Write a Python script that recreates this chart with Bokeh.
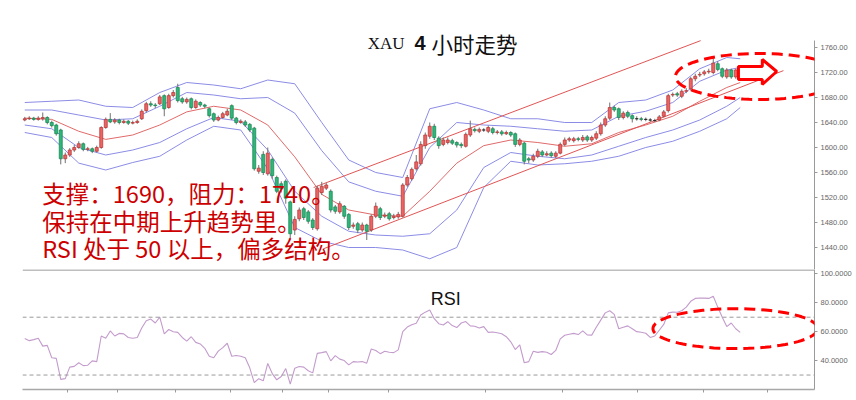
import numpy as np
from bokeh.plotting import figure
from bokeh.layouts import column
from bokeh.models import (Range1d, FixedTicker, NumeralTickFormatter, Span, Label,
                          PolyAnnotation, ColumnDataSource)
from bokeh.embed import file_html
from bokeh.resources import INLINE

# ---------------- data ----------------
open_ = [1644, 1646, 1647, 1645, 1646, 1648, 1640, 1636, 1628, 1582,
         1588, 1596, 1600, 1606, 1597, 1598, 1594, 1600, 1632, 1645,
         1641, 1644, 1640, 1642, 1639, 1640, 1646, 1659, 1670, 1668,
         1670, 1683, 1664, 1683, 1696, 1678, 1673, 1678, 1664, 1672,
         1668, 1662, 1654, 1644, 1648, 1652, 1667, 1647, 1640, 1641,
         1637, 1631, 1562, 1589, 1558, 1581, 1552, 1542, 1546, 1513,
         1468, 1486, 1502, 1497, 1484, 1470, 1528, 1535, 1530, 1505,
         1497, 1506, 1493, 1474, 1478, 1468, 1476, 1468, 1490, 1502,
         1490, 1494, 1488, 1489, 1490, 1540, 1550, 1566, 1574, 1603,
         1618, 1634, 1615, 1605, 1608, 1611, 1608, 1605, 1602, 1620,
         1629, 1626, 1628, 1626, 1630, 1624, 1625, 1622, 1624, 1622,
         1605, 1607, 1582, 1580, 1586, 1593, 1588, 1591, 1586, 1591,
         1605, 1612, 1611, 1614, 1612, 1617, 1612, 1615, 1622, 1636,
         1647, 1664, 1662, 1648, 1656, 1651, 1646, 1646, 1645, 1644,
         1643, 1644, 1650, 1659, 1684, 1686, 1682, 1690, 1694, 1710,
         1716, 1718, 1721, 1720, 1734, 1726, 1713, 1724, 1713, 1718]
close = [1646, 1647, 1645, 1647, 1648, 1640, 1635, 1622, 1582, 1588,
         1596, 1600, 1606, 1597, 1598, 1594, 1600, 1632, 1645, 1641,
         1644, 1640, 1642, 1639, 1640, 1642, 1658, 1670, 1668, 1667,
         1681, 1662, 1683, 1688, 1675, 1673, 1677, 1664, 1674, 1668,
         1666, 1651, 1644, 1648, 1654, 1658, 1647, 1640, 1642, 1636,
         1628, 1566, 1567, 1560, 1591, 1555, 1530, 1534, 1519, 1462,
         1485, 1500, 1488, 1482, 1472, 1535, 1538, 1540, 1500, 1498,
         1510, 1490, 1472, 1476, 1468, 1476, 1466, 1490, 1506, 1488,
         1492, 1486, 1490, 1493, 1540, 1552, 1565, 1577, 1605, 1620,
         1634, 1616, 1603, 1612, 1612, 1607, 1604, 1603, 1621, 1630,
         1627, 1629, 1628, 1632, 1624, 1625, 1622, 1624, 1620, 1605,
         1612, 1578, 1580, 1586, 1594, 1588, 1590, 1587, 1591, 1605,
         1612, 1614, 1614, 1613, 1616, 1612, 1616, 1622, 1636, 1646,
         1664, 1660, 1648, 1655, 1650, 1646, 1646, 1645, 1645, 1644,
         1643, 1649, 1657, 1683, 1685, 1684, 1690, 1691, 1710, 1714,
         1717, 1721, 1722, 1735, 1725, 1714, 1724, 1713, 1724, 1718]
high = [1649, 1650, 1649, 1650, 1656, 1650, 1643, 1638, 1630, 1592,
        1599, 1604, 1610, 1608, 1601, 1600, 1603, 1634, 1648, 1655,
        1647, 1646, 1645, 1644, 1643, 1645, 1661, 1673, 1674, 1671,
        1684, 1685, 1686, 1692, 1702, 1681, 1680, 1680, 1677, 1674,
        1670, 1664, 1656, 1651, 1657, 1662, 1669, 1649, 1645, 1644,
        1639, 1633, 1572, 1594, 1600, 1584, 1555, 1546, 1549, 1515,
        1490, 1504, 1505, 1500, 1487, 1539, 1545, 1543, 1533, 1508,
        1514, 1508, 1495, 1480, 1481, 1480, 1478, 1493, 1512, 1505,
        1496, 1497, 1494, 1497, 1543, 1556, 1568, 1588, 1610, 1624,
        1640, 1638, 1618, 1616, 1616, 1614, 1610, 1608, 1624, 1643,
        1632, 1632, 1631, 1635, 1633, 1628, 1628, 1627, 1626, 1624,
        1615, 1609, 1585, 1590, 1598, 1596, 1594, 1594, 1594, 1608,
        1616, 1617, 1617, 1617, 1620, 1620, 1619, 1626, 1640, 1650,
        1672, 1667, 1664, 1658, 1659, 1653, 1650, 1649, 1648, 1647,
        1646, 1652, 1660, 1686, 1688, 1689, 1693, 1695, 1713, 1718,
        1721, 1724, 1726, 1744, 1738, 1728, 1727, 1726, 1726, 1720]
low = [1642, 1644, 1643, 1643, 1643, 1637, 1632, 1619, 1573, 1575,
       1585, 1593, 1598, 1594, 1594, 1591, 1592, 1598, 1630, 1639,
       1638, 1637, 1638, 1636, 1637, 1638, 1644, 1656, 1665, 1663,
       1668, 1650, 1662, 1680, 1672, 1670, 1670, 1661, 1662, 1665,
       1663, 1648, 1641, 1642, 1646, 1650, 1644, 1637, 1638, 1633,
       1625, 1563, 1558, 1556, 1555, 1550, 1527, 1528, 1510, 1455,
       1460, 1482, 1484, 1478, 1468, 1467, 1524, 1532, 1496, 1494,
       1494, 1486, 1468, 1470, 1463, 1465, 1452, 1465, 1487, 1484,
       1487, 1483, 1485, 1486, 1488, 1537, 1547, 1563, 1571, 1598,
       1614, 1612, 1598, 1602, 1605, 1604, 1600, 1599, 1600, 1617,
       1624, 1623, 1625, 1623, 1621, 1621, 1619, 1620, 1617, 1601,
       1602, 1573, 1575, 1577, 1583, 1585, 1586, 1584, 1583, 1589,
       1602, 1609, 1608, 1610, 1609, 1609, 1609, 1612, 1619, 1633,
       1644, 1657, 1644, 1645, 1647, 1640, 1643, 1642, 1642, 1641,
       1641, 1642, 1648, 1656, 1681, 1681, 1679, 1687, 1691, 1706,
       1713, 1715, 1718, 1717, 1722, 1711, 1710, 1710, 1710, 1716]

# Bollinger-type bands, read at every 6th bar
band_idx = [0, 6, 12, 18, 24, 30, 36, 42, 48, 54, 60, 66, 72, 78, 84, 90, 96,
            102, 108, 114, 120, 126, 132, 138, 144, 150, 156, 159]
upper2 = [1672, 1674, 1676, 1666, 1664, 1688, 1704, 1700, 1694, 1708, 1702, 1640, 1580, 1560,
          1552, 1662, 1672, 1660, 1646, 1646, 1640, 1640, 1672, 1676, 1692, 1726, 1744, 1742]
upper1 = [1660, 1660, 1652, 1644, 1646, 1666, 1688, 1684, 1678, 1680, 1655, 1595, 1545, 1530,
          1522, 1600, 1640, 1636, 1634, 1630, 1626, 1628, 1650, 1658, 1672, 1706, 1724, 1728]
middle = [1647, 1645, 1626, 1613, 1620, 1636, 1657, 1666, 1660, 1636, 1585, 1525, 1500, 1492,
          1490, 1530, 1575, 1603, 1612, 1608, 1602, 1606, 1624, 1636, 1650, 1674, 1696, 1704]
lower1 = [1636, 1630, 1600, 1588, 1596, 1608, 1630, 1648, 1642, 1596, 1530, 1490, 1466, 1460,
          1458, 1462, 1500, 1568, 1592, 1586, 1582, 1588, 1602, 1616, 1628, 1644, 1666, 1680]
lower2 = [1624, 1616, 1575, 1564, 1576, 1586, 1612, 1634, 1628, 1566, 1472, 1450, 1440, 1440,
          1436, 1422, 1440, 1536, 1578, 1572, 1574, 1578, 1586, 1600, 1610, 1626, 1646, 1664]

# trend channel (bar index, price)
trend_upper_x = [64.2, 150.2]
trend_upper_y = [1536, 1771]
trend_lower_x = [66.4, 168.6]
trend_lower_y = [1438, 1723]

rsi = [55.2, 53.8, 54.5, 55.5, 50, 50.5, 42, 41.5, 27, 27.5,
       35.5, 36, 38.5, 36.5, 36.8, 39.8, 39.3, 57, 55.5, 60.5,
       57, 58.8, 58.5, 56, 55.4, 56, 62.5, 67.5, 68.7, 66,
       70, 58.5, 61.5, 60, 59.5, 56, 53.5, 56.5, 52.6, 51.5,
       48.5, 43, 42, 46.5, 49, 52, 43, 43.5, 43, 42,
       35, 24.8, 27.5, 26, 38, 31, 26.7, 29, 34.5, 23.7,
       34.7, 35.9, 35.5, 33, 31.5, 45, 45.5, 46.2, 39.8, 43.4,
       41, 40, 37, 39.3, 39, 39.3, 38.2, 48, 47, 44.8,
       46.5, 45.8, 45.5, 47.4, 60, 63.2, 64.8, 65.8, 71.5, 73.5,
       75, 69, 65.5, 64.6, 66.9, 64.2, 62.8, 66, 67, 64,
       63.8, 62.5, 63.5, 59.5, 59.8, 59.2, 58.5, 56.5, 53, 47.6,
       50.8, 38.5, 39.3, 46.5, 45.7, 46.2, 45.8, 44.2, 47, 55,
       57.5, 58.2, 58.8, 58, 60.5, 57.8, 57.6, 63, 68, 73,
       74.5, 72, 62, 63, 64, 62, 60, 59.6, 58.9, 56,
       57, 61, 65, 73, 73.5, 73.4, 74.5, 77, 81, 83,
       83.3, 83.2, 83, 84.5, 77, 70, 63.5, 66, 62, 59.5]

price_ticks = [1440, 1480, 1520, 1560, 1600, 1640, 1680, 1720, 1760]
rsi_ticks = [40, 60, 80, 100]
rsi_levels = [70, 30]
time_ticks = [9.5, 20.6, 33.5, 45.7, 57.3, 67.5, 80.8, 102.4, 119.5, 136.2, 150.8, 165]

# ---------------- styles ----------------
W = 856
RED_TXT = "#cc0000"
UP_FILL, UP_EDGE = "#ec6464", "#b73a3a"
DN_FILL, DN_EDGE = "#2fb67a", "#1d8a57"
BAND_BLUE = "#8c8ce6"
MID_RED = "#e06a6a"
AXIS_GRAY = "#9a9a9a"
LBL_GRAY = "#666666"

x_range = Range1d(-0.5, 175.5)
PRICE_LO, PRICE_AXIS_TOP, PRICE_HI = 1404.8, 1771.2, 1790.4

# ---------------- price panel ----------------
p1 = figure(width=W, height=269, x_range=x_range, y_range=Range1d(PRICE_LO, PRICE_HI),
            output_backend="svg", toolbar_location=None, x_axis_location=None,
            y_axis_location="right", min_border_left=22, min_border_right=42,
            min_border_top=28, min_border_bottom=0)
p1.grid.visible = False
p1.outline_line_color = None
p1.background_fill_color = "white"
p1.border_fill_color = "white"

n = len(close)
idx = list(range(n))
fills, edges, tops, bots = [], [], [], []
for o, c in zip(open_, close):
    if c > o:
        fills.append(UP_FILL); edges.append(UP_EDGE)
    elif c < o:
        fills.append(DN_FILL); edges.append(DN_EDGE)
    else:
        fills.append("#222222"); edges.append("#222222")
    tops.append(max(o, c)); bots.append(min(o, c))
src = ColumnDataSource(dict(x=idx, h=high, l=low, top=tops, bottom=bots,
                            fill=fills, edge=edges))

# bands
for band in (upper2, upper1, lower1, lower2):
    p1.line(band_idx, band, line_color=BAND_BLUE, line_width=1)
p1.line(band_idx, middle, line_color=MID_RED, line_width=1)
# trend channel
p1.line(trend_upper_x, trend_upper_y, line_color="#e05555", line_width=1)
p1.line(trend_lower_x, trend_lower_y, line_color="#e05555", line_width=1)

# candles
p1.segment(x0="x", y0="h", x1="x", y1="l", source=src, line_color="#707070", line_width=1)
p1.vbar(x="x", width=0.66, top="top", bottom="bottom", source=src,
        fill_color="fill", line_color="edge", line_width=0.8)

ax = p1.yaxis[0]
ax.ticker = FixedTicker(ticks=price_ticks)
ax.bounds = (PRICE_LO, PRICE_AXIS_TOP)
ax.formatter = NumeralTickFormatter(format="0.00")
ax.axis_line_color = AXIS_GRAY
ax.major_tick_line_color = AXIS_GRAY
ax.major_tick_out = 3
ax.major_tick_in = 0
ax.minor_tick_line_color = None
ax.major_label_text_font = "Liberation Sans"
ax.major_label_text_font_size = "7.5px"
ax.major_label_text_color = LBL_GRAY
ax.major_label_standoff = 3

# title
TY = 1767.2
p1.add_layout(Label(x=76.2, y=TY, text="XAU", text_font="Liberation Serif",
                    text_font_size="17px", text_color="#111111", text_baseline="middle"))
p1.add_layout(Label(x=86.6, y=TY, text="4", text_font="Liberation Sans",
                    text_font_style="bold", text_font_size="20px", text_color="#111111",
                    text_baseline="middle"))
p1.add_layout(Label(x=90.4, y=TY, text="小时走势", text_font="Noto Sans CJK SC",
                    text_font_size="21.5px", text_color="#111111", text_baseline="middle"))

# commentary
notes = ["支撑：1690，阻力：1740。", "保持在中期上升趋势里。", "RSI 处于 50 以上，偏多结构。"]
note_y = [1528, 1483, 1440]
for t, yy in zip(notes, note_y):
    p1.add_layout(Label(x=3.9, y=yy, text=t, text_font="Noto Sans CJK SC",
                        text_font_size="23.5px", text_color=RED_TXT, text_baseline="middle"))

# highlight ellipse + arrow
th = np.linspace(0, 2 * np.pi, 90)
cx, cy, rx, ry = 163.3, 1713.6, 18.7, 36.8
p1.add_layout(PolyAnnotation(xs=list(cx + rx * np.cos(th)), ys=list(cy + ry * np.sin(th)),
                             fill_color=None, fill_alpha=0, line_color="#ff0000",
                             line_alpha=1, line_width=3, line_dash="11 6"))
p1.add_layout(PolyAnnotation(xs=[158.6, 163.9, 163.9, 167.1, 163.9, 163.9, 158.6],
                             ys=[1729.6, 1729.6, 1740.8, 1721.6, 1700.8, 1708.8, 1708.8],
                             fill_color="white", fill_alpha=1, line_color="#ff0000",
                             line_alpha=1, line_width=3))

# ---------------- RSI panel ----------------
p2 = figure(width=W, height=131, x_range=x_range, y_range=Range1d(20, 103),
            output_backend="svg", toolbar_location=None, y_axis_location="right",
            min_border_left=22, min_border_right=42, min_border_top=0, min_border_bottom=11)
p2.grid.visible = False
p2.outline_line_color = None
p2.background_fill_color = "white"
p2.border_fill_color = "white"

for lv in rsi_levels:
    p2.add_layout(Span(location=lv, dimension="width", line_color="#9a9a9a",
                       line_dash="4 3", line_width=1))
p2.add_layout(Span(location=102.7, dimension="width", line_color="#a8a8a8", line_width=1.5))

p2.line(idx, rsi, line_color="#c39ccc", line_width=1.1)

ay = p2.yaxis[0]
ay.ticker = FixedTicker(ticks=rsi_ticks)
ay.formatter = NumeralTickFormatter(format="0.0000")
ay.axis_line_color = AXIS_GRAY
ay.major_tick_line_color = AXIS_GRAY
ay.major_tick_out = 3
ay.major_tick_in = 0
ay.minor_tick_line_color = None
ay.major_label_text_font = "Liberation Sans"
ay.major_label_text_font_size = "7.5px"
ay.major_label_text_color = LBL_GRAY
ay.major_label_standoff = 3

axx = p2.xaxis[0]
axx.ticker = FixedTicker(ticks=time_ticks)
axx.axis_line_color = "#a8a8a8"
axx.axis_line_width = 1.5
axx.major_tick_line_color = AXIS_GRAY
axx.major_tick_out = 3
axx.major_tick_in = 0
axx.minor_tick_line_color = None
axx.major_label_overrides = {t: "" for t in time_ticks}
axx.major_label_standoff = 0

p2.add_layout(Label(x=90.2, y=82.6, text="RSI", text_font="Liberation Sans",
                    text_font_size="18px", text_color="#111111", text_baseline="middle"))

cx2, cy2, rx2, ry2 = 157.9, 62.1, 18.3, 13.8
p2.add_layout(PolyAnnotation(xs=list(cx2 + rx2 * np.cos(th)), ys=list(cy2 + ry2 * np.sin(th)),
                             fill_color=None, fill_alpha=0, line_color="#ff0000",
                             line_alpha=1, line_width=3, line_dash="11 6"))

layout = column(p1, p2, spacing=0)
open("out.html", "w").write(file_html(layout, INLINE))
